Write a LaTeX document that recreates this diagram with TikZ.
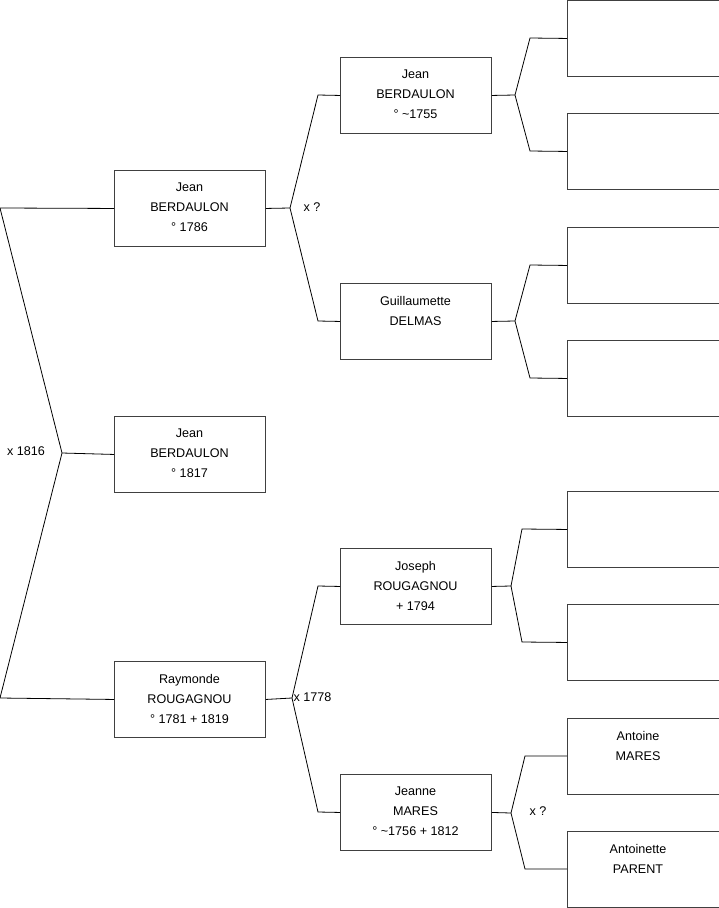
\documentclass[tikz,border=0pt]{standalone}
\usepackage{fontspec}
\setmainfont{Liberation Sans}
\begin{document}
\begin{tikzpicture}[x=1pt,y=-1pt,
  person/.style={draw=black!75,line width=0.9pt,minimum width=151pt,minimum height=76pt,inner sep=0pt,anchor=north west},
  ptext/.style={anchor=north,align=center,inner sep=0pt,font=\fontsize{12.6}{20}\selectfont},
  mlabel/.style={inner sep=0pt,font=\fontsize{12.6}{14}\selectfont},
  conn/.style={draw=black,line width=0.8pt}]
\useasboundingbox (0,0) rectangle (719,908);
% generation 1
\node[person] (a1) at (114,170) {};
\node[person] (a2) at (114,416) {};
\node[person] (a3) at (114,661) {};
% generation 2
\node[person] (b1) at (340,57) {};
\node[person] (b2) at (340,283) {};
\node[person] (b3) at (340,548) {};
\node[person] (b4) at (340,774) {};
% generation 3
\node[person,minimum width=152pt] (c1) at (567,0) {};
\node[person,minimum width=152pt] (c2) at (567,113) {};
\node[person,minimum width=152pt] (c3) at (567,227) {};
\node[person,minimum width=152pt] (c4) at (567,340) {};
\node[person,minimum width=152pt] (c5) at (567,491) {};
\node[person,minimum width=152pt] (c6) at (567,604) {};
\node[person,minimum width=152pt] (c7) at (567,718) {};
\node[person,minimum width=152pt] (c8) at (567,831) {};
% texts
\node[ptext] (t1) at (189.5,183) {Jean\\BERDAULON\\° 1786};
\node[ptext] (t2) at (189.5,429) {Jean\\BERDAULON\\° 1817};
\node[ptext] (t3) at (189.5,674) {Raymonde\\ROUGAGNOU\\° 1781 + 1819};
\node[ptext] (t4) at (415.5,70) {Jean\\BERDAULON\\° \textasciitilde1755};
\node[ptext] (t5) at (415.5,296) {Guillaumette\\DELMAS};
\node[ptext] (t6) at (415.5,561) {Joseph\\ROUGAGNOU\\+ 1794};
\node[ptext] (t7) at (415.5,787) {Jeanne\\MARES\\° \textasciitilde1756 + 1812};
\node[ptext] (t8) at (638,731) {Antoine\\MARES};
\node[ptext] (t9) at (638,844) {Antoinette\\PARENT};
% junction points
\coordinate (j0) at (62,453);
\coordinate (j0t) at (0,208);
\coordinate (j0b) at (0,698);
\coordinate (j1) at (290,208);
\coordinate (j1t) at (318,95);
\coordinate (j1b) at (318,321);
\coordinate (j2) at (292,698);
\coordinate (j2t) at (318,586);
\coordinate (j2b) at (318,812);
\coordinate (k1) at (515,95);
\coordinate (k1t) at (530,38);
\coordinate (k1b) at (530,151);
\coordinate (k2) at (515,321);
\coordinate (k2t) at (530,265);
\coordinate (k2b) at (530,378);
\coordinate (k3) at (511,586);
\coordinate (k3t) at (522,529);
\coordinate (k3b) at (522,642);
\coordinate (k4) at (511,813);
\coordinate (k4t) at (525,756);
\coordinate (k4b) at (525,869);
% connectors
\draw[conn] (a1.west) -- (j0t) -- (j0) -- (j0b) -- (a3.west);
\draw[conn] (j0) -- (a2.west);
\draw[conn] (a1.east) -- (j1);
\draw[conn] (b1.west) -- (j1t) -- (j1) -- (j1b) -- (b2.west);
\draw[conn] (a3.east) -- (j2);
\draw[conn] (b3.west) -- (j2t) -- (j2) -- (j2b) -- (b4.west);
\draw[conn] (b1.east) -- (k1);
\draw[conn] (c1.west) -- (k1t) -- (k1) -- (k1b) -- (c2.west);
\draw[conn] (b2.east) -- (k2);
\draw[conn] (c3.west) -- (k2t) -- (k2) -- (k2b) -- (c4.west);
\draw[conn] (b3.east) -- (k3);
\draw[conn] (c5.west) -- (k3t) -- (k3) -- (k3b) -- (c6.west);
\draw[conn] (b4.east) -- (k4);
\draw[conn] (c7.west |- k4t) -- (k4t) -- (k4) -- (k4b) -- (c8.west |- k4b);
% marriage labels
\node[mlabel] (m0) at (26,451) {x 1816};
\node[mlabel] (m1) at (312,207) {x ?};
\node[mlabel] (m2) at (312.5,697) {x 1778};
\node[mlabel] (m3) at (538,811) {x ?};
\end{tikzpicture}
\end{document}
